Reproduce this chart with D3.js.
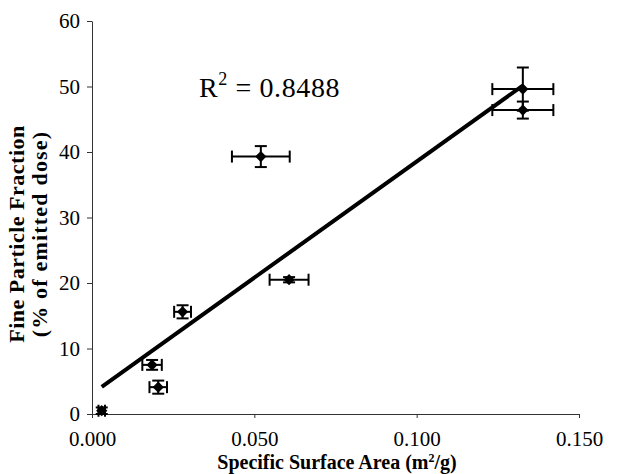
<!DOCTYPE html>
<html>
<head>
<meta charset="utf-8">
<script src="https://cdn.jsdelivr.net/npm/d3@7"></script>
<style>
  body { margin: 0; background: #fff; }
  svg text { font-family: "Liberation Serif", "Times New Roman", serif; fill: #000; }
</style>
</head>
<body>
<svg id="chart" width="634" height="474"></svg>
<script>
// specific surface area (m2/g) and fine particle fraction (% of emitted dose)
var ssa    = [0.003, 0.0185, 0.0204, 0.0279, 0.0607, 0.052, 0.1327, 0.1327];
var fpf    = [0.5,   7.5,    4.1,    15.6,   20.5,   39.3,  49.6,   46.4];
var ssaErr = [0.001, 0.003,  0.0027, 0.0026, 0.006,  0.0089, 0.0094, 0.0094];
var fpfErr = [0.5,   0.75,   1.0,    1.0,    0.4,    1.6,   3.3,    1.3];

var xTicks = [0, 0.05, 0.1, 0.15];
var yTicks = [0, 10, 20, 30, 40, 50, 60];
var r2Label = "0.8488";

var svg = d3.select("#chart");

var x = d3.scaleLinear().domain([0, 0.15]).range([92, 579]);
var y = d3.scaleLinear().domain([0, 60]).range([414, 21]);

var data = ssa.map(function(d, i) {
    return { x: d, y: fpf[i], ex: ssaErr[i], ey: fpfErr[i] };
});

// axes
var xAxis = d3.axisBottom(x).tickValues(xTicks).tickFormat(d3.format(".3f"))
    .tickSizeInner(4).tickSizeOuter(0).tickPadding(13);
var yAxis = d3.axisLeft(y).tickValues(yTicks)
    .tickSizeInner(5).tickSizeOuter(0).tickPadding(7);

var gx = svg.append("g")
    .attr("transform", "translate(0," + y(0) + ")")
    .call(xAxis);
var gy = svg.append("g")
    .attr("transform", "translate(" + x(0) + ",0)")
    .call(yAxis);

[gx, gy].forEach(function(g) {
    g.select(".domain").attr("stroke", "#333").attr("stroke-width", 1);
    g.selectAll(".tick line").attr("stroke", "#333");
    g.selectAll(".tick text").style("font-size", "21px")
        .style("font-family", '"Liberation Serif", serif');
});

// least squares trend line
var mx = d3.mean(ssa), my = d3.mean(fpf);
var sxy = d3.sum(ssa, function(d, i) { return (d - mx) * (fpf[i] - my); });
var sxx = d3.sum(ssa, function(d) { return (d - mx) * (d - mx); });
var slope = sxy / sxx;
var intercept = my - slope * mx;
var ext = d3.extent(ssa);

svg.append("line")
    .attr("x1", x(ext[0])).attr("y1", y(intercept + slope * ext[0]))
    .attr("x2", x(ext[1])).attr("y2", y(intercept + slope * ext[1]))
    .attr("stroke", "#000").attr("stroke-width", 4);

// error bars
var cap = 6;
var eb = svg.append("g").attr("stroke", "#000").attr("stroke-width", 2);
data.forEach(function(d) {
    var cx = x(d.x), cy = y(d.y);
    var x0 = x(d.x - d.ex), x1 = x(d.x + d.ex);
    var y0 = y(d.y - d.ey), y1 = y(d.y + d.ey);
    eb.append("line").attr("x1", x0).attr("x2", x1).attr("y1", cy).attr("y2", cy);
    eb.append("line").attr("x1", x0).attr("x2", x0).attr("y1", cy - cap).attr("y2", cy + cap);
    eb.append("line").attr("x1", x1).attr("x2", x1).attr("y1", cy - cap).attr("y2", cy + cap);
    eb.append("line").attr("x1", cx).attr("x2", cx).attr("y1", y0).attr("y2", y1);
    eb.append("line").attr("x1", cx - cap).attr("x2", cx + cap).attr("y1", y0).attr("y2", y0);
    eb.append("line").attr("x1", cx - cap).attr("x2", cx + cap).attr("y1", y1).attr("y2", y1);
});

// markers
svg.append("g").selectAll("path")
    .data(data)
    .enter()
    .append("path")
    .attr("d", d3.symbol().type(d3.symbolDiamond2).size(80))
    .attr("transform", function(d) {
        return "translate(" + x(d.x) + "," + y(d.y) + ")";
    })
    .attr("fill", "#000");

// R squared label
var r2 = svg.append("text")
    .attr("x", 199).attr("y", 97)
    .style("font-size", "28px").style("letter-spacing", "0.6px");
r2.append("tspan").text("R");
r2.append("tspan").attr("dy", -12).style("font-size", "18px").text("2");
r2.append("tspan").attr("dy", 12).text(" = " + r2Label);

// axis titles
var xt = svg.append("text")
    .attr("x", 337).attr("y", 469)
    .attr("text-anchor", "middle")
    .style("font-size", "20px").style("font-weight", "bold");
xt.append("tspan").text("Specific Surface Area (m");
xt.append("tspan").attr("dy", -7).style("font-size", "12px").text("2");
xt.append("tspan").attr("dy", 7).text("/g)");

var yt = svg.append("g")
    .attr("transform", "translate(24,234) rotate(-90)");
yt.append("text").attr("text-anchor", "middle")
    .style("font-size", "22px").style("font-weight", "bold")
    .style("letter-spacing", "0.5px")
    .text("Fine Particle Fraction");
yt.append("text").attr("text-anchor", "middle").attr("y", 23)
    .style("font-size", "22px").style("font-weight", "bold")
    .style("letter-spacing", "1.2px")
    .text("(% of emitted dose)");
</script>
</body>
</html>
